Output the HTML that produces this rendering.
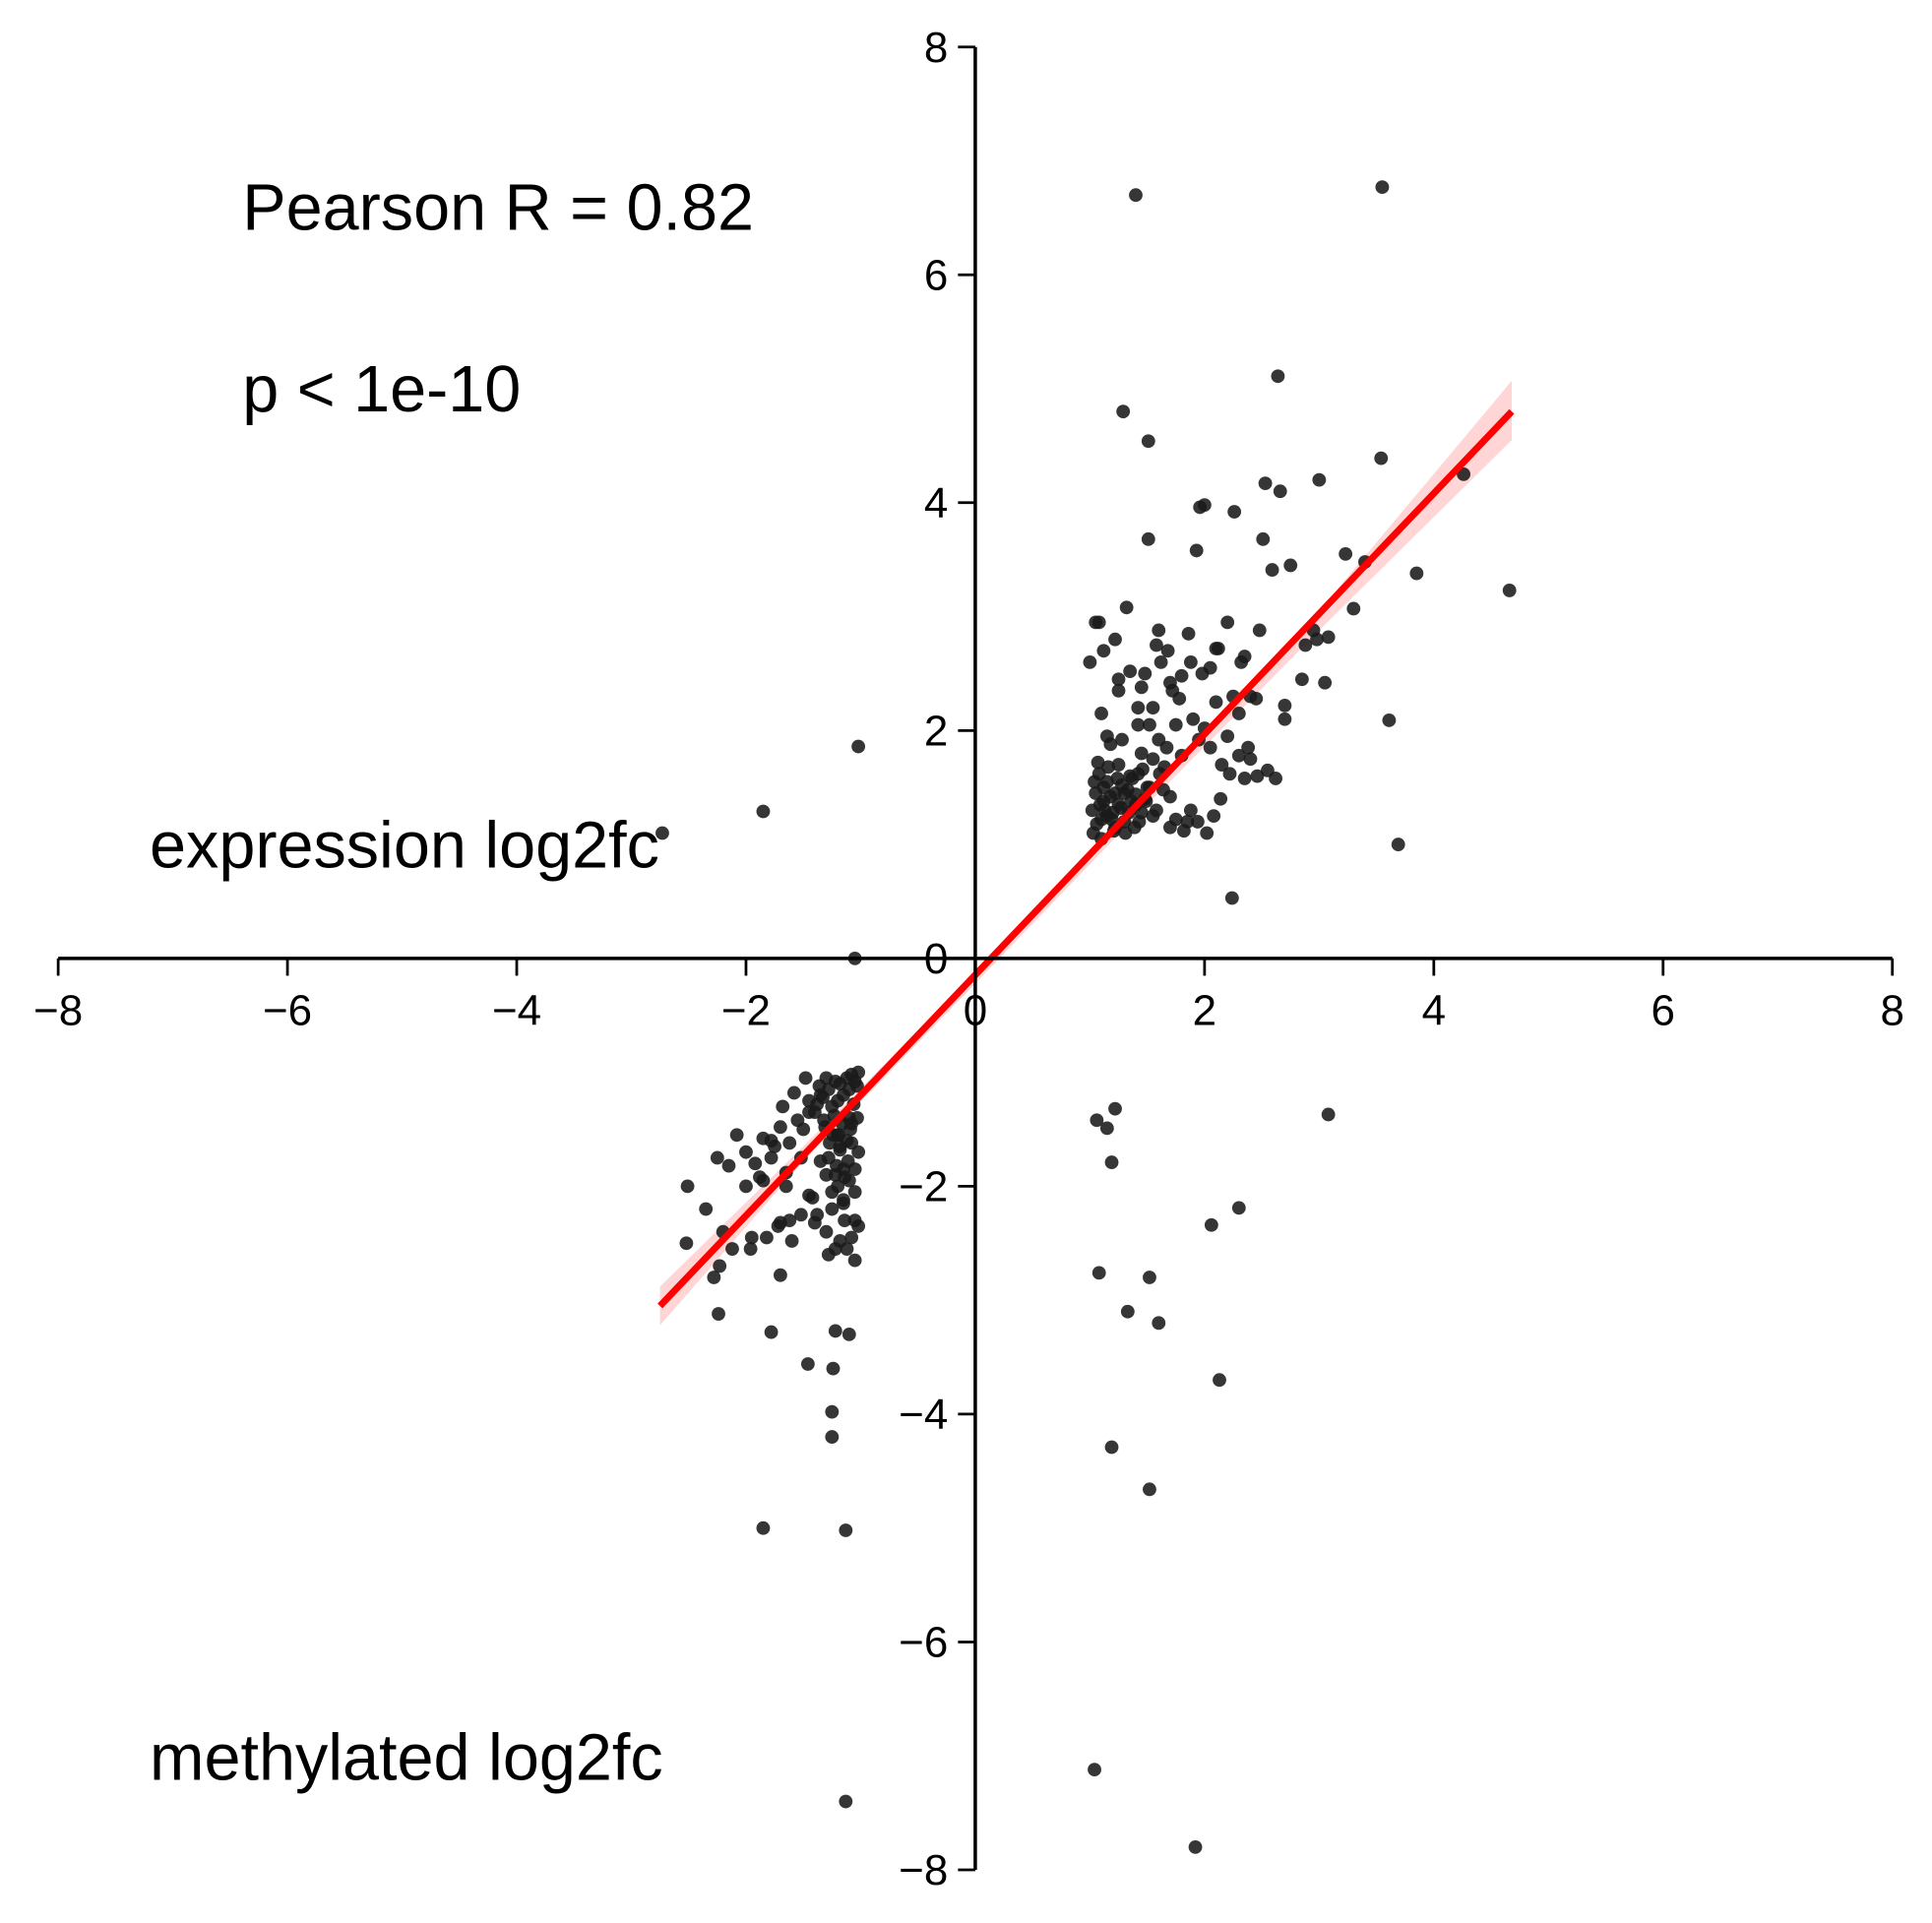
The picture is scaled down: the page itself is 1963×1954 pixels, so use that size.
<!DOCTYPE html>
<html><head><meta charset="utf-8"><style>
html,body{margin:0;padding:0;background:#fff}
svg{display:block}
text{font-family:"Liberation Sans",Arial,sans-serif;fill:#000}
</style></head><body>
<svg id="chart" width="1963" height="1954" viewBox="0 0 1563 1556" xmlns="http://www.w3.org/2000/svg">
<g id="band"></g>
<g id="pts"></g>
<g id="fit"></g>
<g id="axes"></g>
<text x="196" y="186" font-size="53">Pearson R = 0.82</text>
<text x="196" y="333" font-size="53">p &lt; 1e-10</text>
<text x="121" y="702" font-size="53">expression log2fc</text>
<text x="121" y="1440" font-size="53">methylated log2fc</text>
</svg>
<script>
const xTicks=[-8,-6,-4,-2,0,2,4,6,8];
const yTicks=[-8,-6,-4,-2,0,2,4,6,8];
const xs=[-1.02,-1.85,-2.73,-1.05,1.40,3.55,2.64,1.29,1.51,3.54,4.26,4.66,3.85,3.61,3.69,2.24,
2.53,2.66,3.00,2.51,2.00,1.96,2.26,1.51,1.93,2.59,2.75,3.23,3.40,3.30,3.08,2.95,2.88,
1.02,1.05,1.10,1.08,1.12,1.15,1.20,1.25,1.30,1.18,1.22,1.35,1.40,1.45,1.50,1.55,1.60,1.65,1.70,1.75,1.80,1.85,1.90,1.95,2.00,2.05,2.10,2.15,2.20,2.25,2.30,2.35,2.40,2.45,
1.03,1.06,1.09,1.12,1.15,1.18,1.21,1.24,1.27,1.30,1.33,1.36,1.39,1.42,1.45,1.48,1.04,1.07,1.10,1.13,1.16,1.19,1.22,1.25,1.28,1.31,1.34,1.37,1.40,1.43,1.46,1.49,1.52,1.55,1.58,1.61,1.64,1.67,
1.70,1.75,1.82,1.88,1.94,2.02,2.08,2.14,2.22,2.30,2.38,2.46,2.55,2.62,2.70,2.85,2.98,3.05,1.10,1.25,1.45,1.62,1.78,1.98,2.12,2.35,1.08,1.22,1.32,1.48,1.68,1.86,1.72,1.58,1.42,1.28,
1.00,1.05,1.12,1.35,1.52,1.60,1.88,2.20,2.48,2.70,1.15,1.42,1.70,2.05,2.32,1.25,1.55,1.80,2.10,2.40,
-1.02,-1.05,-1.08,-1.10,-1.12,-1.15,-1.18,-1.20,-1.22,-1.25,-1.28,-1.30,-1.33,-1.36,-1.40,-1.03,-1.06,-1.09,-1.12,-1.16,-1.19,-1.23,-1.27,-1.31,-1.35,-1.02,-1.05,-1.08,-1.11,-1.14,-1.18,-1.21,-1.24,-1.28,-1.32,-1.38,-1.45,-1.50,-1.55,-1.62,-1.70,-1.78,-1.85,-1.92,-2.00,-2.08,-2.15,-1.48,-1.58,-1.68,-1.75,-1.05,-1.10,-1.15,-1.20,-1.25,-1.02,-1.08,-1.14,-1.22,-1.30,-1.42,-1.52,-1.65,-1.72,-1.88,-2.25,-2.52,-2.35,-1.05,-1.12,-1.18,-1.28,-1.40,-1.60,-1.82,
-1.05,-1.15,-1.22,-1.52,-1.65,-1.78,-2.00,-2.20,-1.08,-1.18,-1.30,-1.45,-1.62,-1.85,
-1.03,-1.10,-1.20,-1.35,-1.45,-1.15,-1.25,-1.38,-2.12,-1.70,-1.95,-2.28,
1.06,1.15,1.22,1.19,3.08,2.30,2.06,1.08,1.52,1.33,1.60,2.13,1.19,1.52,1.04,1.92,
-1.13,-1.85,-1.13,-1.25,-1.25,-1.24,-1.46,-1.22,-1.10,-1.78,-2.24,-1.70,-2.51,-2.23,-1.96];
const ys=[1.86,1.29,1.10,0.00,6.70,6.77,5.11,4.80,4.54,4.39,4.25,3.23,3.38,2.09,1.00,0.53,
4.17,4.10,4.20,3.68,3.98,3.96,3.92,3.68,3.58,3.41,3.45,3.55,3.48,3.07,2.82,2.88,2.75,
1.30,1.45,1.22,1.62,1.38,1.55,1.28,1.70,1.45,1.88,1.15,1.60,1.35,1.80,1.50,1.25,1.92,1.68,1.42,2.05,1.78,1.20,2.10,1.92,2.02,1.85,2.25,1.70,1.95,2.30,2.15,1.58,1.75,2.28,
1.10,1.18,1.35,1.50,1.25,1.42,1.12,1.58,1.32,1.20,1.48,1.38,1.15,1.62,1.28,1.40,1.55,1.72,1.05,1.30,1.68,1.22,1.45,1.35,1.52,1.10,1.28,1.58,1.44,1.20,1.66,1.38,1.50,1.75,1.30,1.62,1.48,1.85,
1.15,1.22,1.12,1.30,1.20,1.10,1.25,1.40,1.62,1.78,1.85,1.60,1.65,1.58,2.10,2.45,2.80,2.42,2.15,2.45,2.38,2.60,2.28,2.50,2.72,2.65,2.95,2.80,3.08,2.50,2.70,2.85,2.35,2.75,2.05,1.92,
2.60,2.95,2.70,2.52,2.05,2.88,2.60,2.95,2.88,2.22,1.95,2.20,2.42,2.55,2.60,2.35,2.20,2.48,2.72,2.30,
-1.00,-1.08,-1.02,-1.15,-1.05,-1.20,-1.10,-1.25,-1.08,-1.30,-1.15,-1.05,-1.22,-1.12,-1.35,-1.40,-1.28,-1.50,-1.60,-1.45,-1.55,-1.38,-1.62,-1.48,-1.20,-1.70,-1.85,-1.62,-1.78,-1.92,-1.68,-1.82,-1.55,-1.75,-1.42,-1.28,-1.35,-1.50,-1.42,-1.62,-1.48,-1.75,-1.58,-1.80,-1.70,-1.55,-1.82,-1.05,-1.18,-1.30,-1.65,-2.05,-1.95,-2.15,-2.00,-2.20,-2.35,-2.45,-2.30,-2.55,-2.40,-2.10,-2.25,-2.00,-2.35,-1.92,-1.75,-2.50,-2.20,-2.65,-2.55,-2.48,-2.60,-2.32,-2.48,-2.45,
-2.30,-2.12,-1.90,-1.75,-1.88,-1.60,-2.00,-2.40,-1.45,-1.65,-1.90,-2.08,-2.30,-1.95,
-1.12,-1.40,-1.55,-1.78,-1.25,-1.85,-2.05,-2.25,-2.55,-2.32,-2.45,-2.80,
-1.42,-1.49,-1.32,-1.79,-1.37,-2.19,-2.34,-2.76,-2.80,-3.10,-3.20,-3.70,-4.29,-4.66,-7.12,-7.80,
-5.02,-5.00,-7.40,-4.20,-3.98,-3.60,-3.56,-3.27,-3.30,-3.28,-3.12,-2.78,-2.00,-2.70,-2.55];
const fitX=[-2.75,4.68];
const fitY=[-3.05,4.80];
const bandX=[-2.75,-1.5,0,1.5,3,4.68];
const bandLo=[-3.22,-1.78,-0.22,1.35,2.88,4.55];
const bandHi=[-2.88,-1.65,-0.12,1.46,3.05,5.07];

const NS='http://www.w3.org/2000/svg';
const X0=47,X1=1531,Y0=1513,Y1=38;
const sx=v=>X0+(v+8)/16*(X1-X0);
const sy=v=>Y0-(v+8)/16*(Y0-Y1);
function mk(tag,attrs,parent){const e=document.createElementNS(NS,tag);for(const k in attrs)e.setAttribute(k,attrs[k]);parent.appendChild(e);return e;}

let d='M'+bandX.map((x,i)=>sx(x)+','+sy(bandHi[i])).join(' L');
for(let i=bandX.length-1;i>=0;i--)d+=' L'+sx(bandX[i])+','+sy(bandLo[i]);
const bp=mk('path',{d:d+'Z',fill:'#ffd5d5',stroke:'none'},document.getElementById('band'));



const pg=document.getElementById('pts');
for(let i=0;i<xs.length;i++){
 const c=mk('circle',{cx:sx(xs[i]),cy:sy(ys[i]),r:5.5,fill:'#1a1a1a','fill-opacity':0.88},pg);
 
 
}
const fl=mk('line',{x1:sx(fitX[0]),y1:sy(fitY[0]),x2:sx(fitX[1]),y2:sy(fitY[1]),stroke:'#ff0000','stroke-width':5.5},document.getElementById('fit'));



const ag=document.getElementById('axes');
const cx=sx(0),cy=sy(0);
const xa=mk('line',{x1:X0,y1:cy,x2:X1,y2:cy,stroke:'#000','stroke-width':2.8},ag);


const ya=mk('line',{x1:cx,y1:Y1,x2:cx,y2:Y0,stroke:'#000','stroke-width':2.8},ag);


xTicks.forEach(v=>{
 const t=mk('line',{x1:sx(v),y1:cy,x2:sx(v),y2:cy+14,stroke:'#000','stroke-width':2.2},ag);
 
 
 const l=mk('text',{x:sx(v),y:cy+54,'font-size':35,'text-anchor':'middle'},ag);
 l.textContent=v<0?'\u2212'+(-v):String(v);
 
 
});
yTicks.forEach(v=>{
 const t=mk('line',{x1:cx-14,y1:sy(v),x2:cx,y2:sy(v),stroke:'#000','stroke-width':2.2},ag);
 
 
 const l=mk('text',{x:cx-22,y:sy(v)+12,'font-size':35,'text-anchor':'end'},ag);
 l.textContent=v<0?'\u2212'+(-v):String(v);
 
 
});
</script>
</body></html>
